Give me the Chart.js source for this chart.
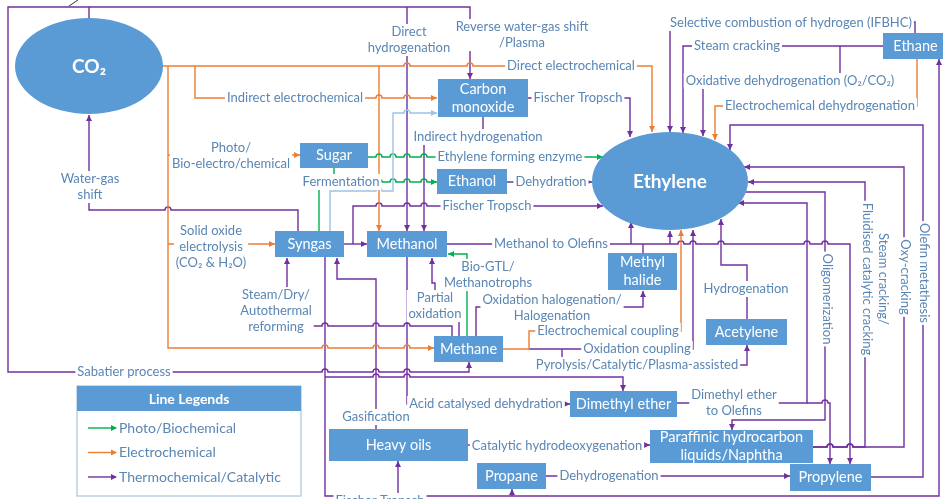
<!DOCTYPE html>
<html>
<head>
<meta charset="utf-8">
<script src="https://cdn.jsdelivr.net/npm/chart.js@4.4.1/dist/chart.umd.min.js"></script>
<style>
  html, body { margin: 0; padding: 0; background: #fff; overflow: hidden; }
  #wrap { width: 943px; height: 499px; }
</style>
</head>
<body>
<div id="wrap"><canvas id="flow" width="943" height="499"></canvas></div>
<script>
// nodes: [label, left, top, right, bottom] in diagram units
const boxes = [
    ['Carbon\nmonoxide', 438, 79, 528, 117],
    ['Sugar', 300, 143, 368, 168],
    ['Ethanol', 437, 169, 507, 194],
    ['Syngas', 275, 231, 344, 257],
    ['Methanol', 367, 231, 447, 257],
    ['Methyl\nhalide', 608, 253, 677, 290],
    ['Acetylene', 706, 319, 787, 345],
    ['Methane', 434, 336, 503, 362],
    ['Dimethyl ether', 570, 391, 677, 417],
    ['Heavy oils', 329, 429, 468, 461],
    ['Propane', 477, 463, 546, 489],
    ['Paraffinic hydrocarbon\nliquids/Naphtha', 650, 430, 813, 463],
    ['Propylene', 790, 464, 871, 491],
    ['Ethane', 883, 33, 948, 59]
];
// [label, cx, cy, rx, ry]
const ellipses = [
    ['CO₂', 89, 66, 74, 48],
    ['Ethylene', 670, 181, 78, 49]
];

// routes, arrow at the last point
const purpleLinks = [
    [[89, 18], [89, 7], [8, 7], [8, 372], [469, 372], [469, 362]],
    [[89, 7], [470, 7], [470, 79]],
    [[407, 7], [407, 231]],
    [[483, 117], [483, 137], [424, 137], [424, 231]],
    [[528, 98], [630, 98], [630, 137]],
    [[915, 33], [915, 22], [670, 22], [670, 132]],
    [[883, 46], [683, 46], [683, 133]],
    [[840, 46], [840, 81], [703, 81], [703, 136]],
    [[871, 477], [923, 477], [923, 125], [730, 125], [730, 150]],
    [[813, 447], [904, 447], [904, 167], [744, 167]],
    [[813, 447], [865, 447], [865, 182], [748, 182]],
    [[742, 192], [825, 192], [825, 420], [732, 420], [732, 430]],
    [[677, 403], [807, 403], [807, 203], [738, 203]],
    [[807, 403], [830, 403], [830, 464]],
    [[447, 244], [850, 244], [850, 464]],
    [[631, 244], [631, 222]],
    [[670, 244], [670, 231]],
    [[529, 349], [693, 349], [693, 230]],
    [[562, 349], [562, 365], [747, 365], [747, 345]],
    [[747, 319], [747, 265], [721, 265], [721, 219]],
    [[476, 336], [476, 307], [643, 307], [643, 291]],
    [[459, 336], [459, 300], [435, 300], [435, 283], [432, 283], [432, 258]],
    [[452, 336], [452, 326], [287, 326], [287, 258]],
    [[298, 231], [298, 210], [89, 210], [89, 115]],
    [[344, 244], [367, 244]],
    [[353, 244], [353, 206], [603, 206]],
    [[507, 182], [592, 182]],
    [[325, 257], [325, 496], [939, 496], [939, 59]],
    [[398, 496], [398, 461]],
    [[512, 496], [512, 489]],
    [[325, 377], [623, 377], [623, 391]],
    [[376, 429], [376, 279], [337, 279], [337, 258]],
    [[407, 257], [407, 404], [570, 404]],
    [[468, 445], [650, 445]],
    [[546, 476], [790, 476]]
];
const purpleJoins = [
    [[643, 253], [643, 244]]
];
const orangeLinks = [
    [[163, 66], [652, 66], [652, 132]],
    [[195, 66], [195, 98], [437, 98]],
    [[168, 66], [168, 348], [434, 348]],
    [[168, 155], [300, 155]],
    [[168, 244], [275, 244]],
    [[379, 66], [379, 231]],
    [[503, 349], [529, 349], [529, 331], [681, 331], [681, 230]],
    [[917, 59], [917, 106], [715, 106], [715, 140]]
];
const greenLinks = [
    [[368, 157], [603, 157]],
    [[334, 168], [334, 182], [437, 182]],
    [[467, 336], [467, 254], [448, 254]]
];
const greenJoins = [
    [[319, 231], [319, 190]]
];
const blueLinks = [
    [[330, 231], [330, 191], [393, 191], [393, 113], [437, 113]]
];

// [text, cx, cy]
const labels = [
    ['Direct\nhydrogenation', 409, 40],
    ['Reverse water-gas shift\n/Plasma', 522, 35],
    ['Direct electrochemical', 571, 66],
    ['Indirect electrochemical', 295, 98],
    ['Fischer Tropsch', 578, 98],
    ['Indirect hydrogenation', 478, 137],
    ['Photo/\nBio-electro/chemical', 231, 156],
    ['Ethylene forming enzyme', 510, 157],
    ['Fermentation', 341, 182],
    ['Dehydration', 551, 182],
    ['Water-gas\nshift', 90, 187],
    ['Fischer Tropsch', 487, 206],
    ['Solid oxide\nelectrolysis\n(CO₂ & H₂O)', 211, 247],
    ['Methanol to Olefins', 551, 244],
    ['Bio-GTL/\nMethanotrophs', 488, 275],
    ['Steam/Dry/\nAutothermal\nreforming', 276, 311],
    ['Partial\noxidation', 435, 306],
    ['Oxidation halogenation/\nHalogenation', 552, 308],
    ['Hydrogenation', 746, 289],
    ['Electrochemical coupling', 608, 331],
    ['Oxidation coupling', 637, 349],
    ['Pyrolysis/Catalytic/Plasma-assisted', 637, 365],
    ['Sabatier process', 124, 372],
    ['Acid catalysed dehydration', 486, 404],
    ['Dimethyl ether\nto Olefins', 734, 403],
    ['Gasification', 376, 417],
    ['Catalytic hydrodeoxygenation', 557, 446],
    ['Dehydrogenation', 609, 476],
    ['Fischer Tropsch', 380, 501],
    ['Selective combustion of hydrogen (IFBHC)', 791, 23],
    ['Steam cracking', 737, 46],
    ['Oxidative dehydrogenation (O₂/CO₂)', 790, 81],
    ['Electrochemical dehydrogenation', 820, 106]
];
// rotated 90 degrees, read top to bottom
const sideLabels = [
    ['Oligomerization', 827, 299],
    ['Steam cracking/\nFluidised catalytic cracking', 875, 279],
    ['Oxy-cracking', 905, 277],
    ['Olefin metathesis', 924, 273]
];

const legendTitle = 'Line Legends';
const legendItems = ['Photo/Biochemical', 'Electrochemical', 'Thermochemical/Catalytic'];

const PURPLE = '#7030a0';
const ORANGE = '#ed7d31';
const GREEN = '#00b050';
const LIGHTBLUE = '#9dc3e6';
const FILL = '#5b9bd5';
const TEXT = '#5a86b4';
const FONT = "Lato, 'Noto Sans', sans-serif";
const legendColors = [GREEN, ORANGE, PURPLE];

// every vertical stretch, so that horizontal runs can hop over it
const allRoutes = [...purpleLinks, ...purpleJoins, ...orangeLinks, ...greenLinks, ...greenJoins, ...blueLinks];
const verticals = [];
allRoutes.forEach(pts => {
    for (let i = 1; i < pts.length; i++) {
        const a = pts[i - 1], b = pts[i];
        if (a[0] === b[0]) verticals.push([a[0], Math.min(a[1], b[1]), Math.max(a[1], b[1])]);
    }
});

function arrowHead(ctx, x0, y0, x1, y1, color) {
    const a = Math.atan2(y1 - y0, x1 - x0);
    const len = 6, half = 3;
    ctx.fillStyle = color;
    ctx.beginPath();
    ctx.moveTo(x1, y1);
    ctx.lineTo(x1 - len * Math.cos(a) + half * Math.sin(a), y1 - len * Math.sin(a) - half * Math.cos(a));
    ctx.lineTo(x1 - len * Math.cos(a) - half * Math.sin(a), y1 - len * Math.sin(a) + half * Math.cos(a));
    ctx.closePath();
    ctx.fill();
}

function drawRoutes(ctx, px, py, list, color, withArrow) {
    ctx.strokeStyle = color;
    ctx.lineWidth = 1.4;
    list.forEach(pts => {
        ctx.beginPath();
        ctx.moveTo(px(pts[0][0]), py(pts[0][1]));
        for (let i = 1; i < pts.length; i++) {
            const a = pts[i - 1], b = pts[i];
            if (a[1] === b[1]) {
                const lo = Math.min(a[0], b[0]), hi = Math.max(a[0], b[0]);
                const dir = b[0] > a[0] ? 1 : -1;
                const hops = verticals
                    .filter(v => v[0] > lo + 4 && v[0] < hi - 4 && v[1] < a[1] - 2 && v[2] > a[1] + 2)
                    .map(v => v[0])
                    .filter((x, k, arr) => arr.indexOf(x) === k)
                    .sort((p, q) => dir * (p - q));
                hops.forEach(x => {
                    const cx = px(x), cy = py(a[1]);
                    ctx.lineTo(cx - 3 * dir, cy);
                    if (dir > 0) ctx.arc(cx, cy, 3, Math.PI, 0, false);
                    else ctx.arc(cx, cy, 3, 0, Math.PI, true);
                });
            }
            ctx.lineTo(px(b[0]), py(b[1]));
        }
        ctx.stroke();
        if (withArrow) {
            const a = pts[pts.length - 2], b = pts[pts.length - 1];
            arrowHead(ctx, px(a[0]), py(a[1]), px(b[0]), py(b[1]), color);
        }
    });
}

function textBlock(ctx, text, size, lineH) {
    const lines = text.split('\n');
    ctx.font = size + 'px ' + FONT;
    const w = Math.max(...lines.map(l => ctx.measureText(l).width));
    const h = lines.length * lineH;
    ctx.fillStyle = '#fff';
    ctx.fillRect(-w / 2 - 2, -h / 2, w + 4, h);
    ctx.fillStyle = TEXT;
    ctx.textAlign = 'center';
    ctx.textBaseline = 'middle';
    lines.forEach((l, i) => ctx.fillText(l, 0, -h / 2 + lineH * (i + 0.5)));
}

const diagram = {
    id: 'diagram',
    afterDatasetsDraw(chart) {
        const ctx = chart.ctx;
        const sx = chart.scales.x, sy = chart.scales.y;
        const px = v => sx.getPixelForValue(v);
        const py = v => sy.getPixelForValue(v);
        ctx.save();
        ctx.lineJoin = 'miter';

        // little pen mark in the corner of the scan
        ctx.strokeStyle = '#333';
        ctx.lineWidth = 1;
        ctx.beginPath();
        ctx.moveTo(px(69), py(6));
        ctx.lineTo(px(78), py(0));
        ctx.stroke();

        drawRoutes(ctx, px, py, purpleLinks, PURPLE, true);
        drawRoutes(ctx, px, py, purpleJoins, PURPLE, false);
        drawRoutes(ctx, px, py, orangeLinks, ORANGE, true);
        drawRoutes(ctx, px, py, greenLinks, GREEN, true);
        drawRoutes(ctx, px, py, greenJoins, GREEN, false);
        drawRoutes(ctx, px, py, blueLinks, LIGHTBLUE, true);

        labels.forEach(([t, x, y]) => {
            ctx.save();
            ctx.translate(px(x), py(y));
            textBlock(ctx, t, 13, 16);
            ctx.restore();
        });
        sideLabels.forEach(([t, x, y]) => {
            ctx.save();
            ctx.translate(px(x), py(y));
            ctx.rotate(Math.PI / 2);
            textBlock(ctx, t, 13, 16);
            ctx.restore();
        });

        ctx.textAlign = 'center';
        ctx.textBaseline = 'middle';
        boxes.forEach(([t, l, tp, r, b]) => {
            const x0 = px(l), y0 = py(tp), x1 = px(r), y1 = py(b);
            ctx.fillStyle = FILL;
            ctx.fillRect(x0, y0, x1 - x0, y1 - y0);
            ctx.fillStyle = '#fff';
            ctx.font = '14.5px ' + FONT;
            const lines = t.split('\n');
            const cx = (x0 + x1) / 2, cy = (y0 + y1) / 2;
            lines.forEach((ln, i) => ctx.fillText(ln, cx, cy + (i - (lines.length - 1) / 2) * 18));
        });
        ellipses.forEach(([t, cx, cy, rx, ry]) => {
            ctx.fillStyle = FILL;
            ctx.beginPath();
            ctx.ellipse(px(cx), py(cy), px(cx + rx) - px(cx), py(cy + ry) - py(cy), 0, 0, Math.PI * 2);
            ctx.fill();
            ctx.fillStyle = '#fff';
            ctx.font = 'bold 19px ' + FONT;
            ctx.fillText(t, px(cx), py(cy) + 1);
        });

        // legend panel
        const lx0 = px(77), lx1 = px(301), ly0 = py(386), lyh = py(411), ly1 = py(496);
        ctx.fillStyle = '#fff';
        ctx.fillRect(lx0, ly0, lx1 - lx0, ly1 - ly0);
        ctx.strokeStyle = '#a9c4de';
        ctx.lineWidth = 1.2;
        ctx.strokeRect(lx0, ly0, lx1 - lx0, ly1 - ly0);
        ctx.fillStyle = FILL;
        ctx.fillRect(lx0, ly0, lx1 - lx0, lyh - ly0);
        ctx.fillStyle = '#fff';
        ctx.font = 'bold 14px ' + FONT;
        ctx.fillText(legendTitle, (lx0 + lx1) / 2, (ly0 + lyh) / 2 + 1);
        legendItems.forEach((name, i) => {
            const y = py(428 + i * 24.5);
            ctx.strokeStyle = legendColors[i];
            ctx.lineWidth = 1.4;
            ctx.beginPath();
            ctx.moveTo(px(88), y);
            ctx.lineTo(px(116), y);
            ctx.stroke();
            arrowHead(ctx, px(100), y, px(117), y, legendColors[i]);
            ctx.fillStyle = TEXT;
            ctx.font = '14px ' + FONT;
            ctx.textAlign = 'left';
            ctx.fillText(name, px(119), y);
            ctx.textAlign = 'center';
        });
        ctx.restore();
    }
};

new Chart(document.getElementById('flow'), {
    type: 'scatter',
    data: { datasets: [{ data: [], pointRadius: 0 }] },
    options: {
        responsive: false,
        animation: false,
        layout: { padding: 0 },
        plugins: { legend: { display: false }, tooltip: { enabled: false } },
        scales: {
            x: { type: 'linear', min: 0, max: 943, display: false },
            y: { type: 'linear', min: 0, max: 499, reverse: true, display: false }
        }
    },
    plugins: [diagram]
});
</script>
</body>
</html>
